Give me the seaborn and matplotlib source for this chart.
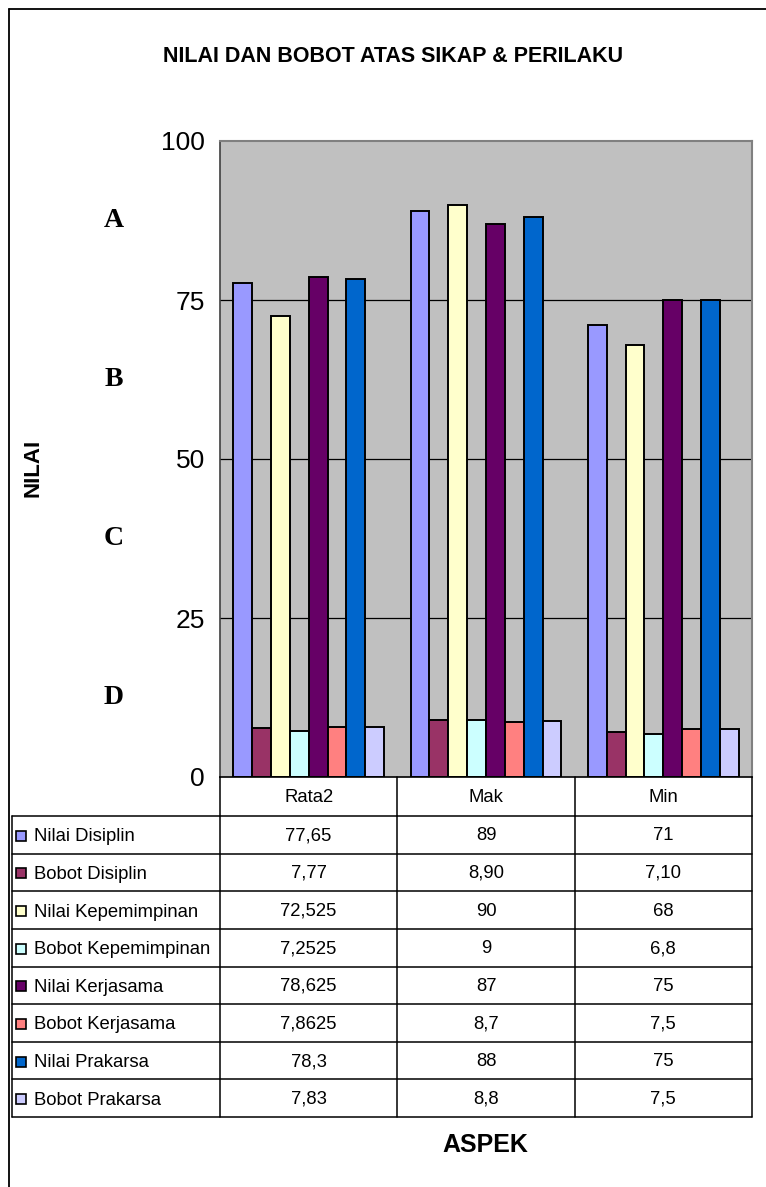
import pandas as pd
import numpy as np
import matplotlib
matplotlib.use('Agg')
import matplotlib.pyplot as plt
import matplotlib.transforms as mtransforms
from matplotlib.patches import Rectangle
import seaborn as sn

# data
aspek = ['Rata2', 'Mak', 'Min']
seri = ['Nilai Disiplin', 'Bobot Disiplin', 'Nilai Kepemimpinan', 'Bobot Kepemimpinan',
        'Nilai Kerjasama', 'Bobot Kerjasama', 'Nilai Prakarsa', 'Bobot Prakarsa']
nilaiDisiplin = [77.65, 89, 71]
bobotDisiplin = [7.77, 8.90, 7.10]
nilaiKepemimpinan = [72.525, 90, 68]
bobotKepemimpinan = [7.2525, 9, 6.8]
nilaiKerjasama = [78.625, 87, 75]
bobotKerjasama = [7.8625, 8.7, 7.5]
nilaiPrakarsa = [78.3, 88, 75]
bobotPrakarsa = [7.83, 8.8, 7.5]
formatAngka = ['g', '.2f', 'g', 'g', 'g', 'g', 'g', 'g']
warna = ['#9999FF', '#993366', '#FFFFCC', '#CCFFFF', '#660066', '#FF8080', '#0066CC', '#CCCCFF']
huruf = ['A', 'B', 'C', 'D']
posisiHuruf = [87.5, 62.5, 37.5, 12.5]
yticks = [0, 25, 50, 75, 100]

semuaNilai = [nilaiDisiplin, bobotDisiplin, nilaiKepemimpinan, bobotKepemimpinan,
              nilaiKerjasama, bobotKerjasama, nilaiPrakarsa, bobotPrakarsa]

rows = []
for s, vals in zip(seri, semuaNilai):
    for a, v in zip(aspek, vals):
        rows.append({'aspek': a, 'seri': s, 'nilai': v})
df = pd.DataFrame(rows)

sn.set_style('white')
plt.rcParams['font.family'] = ['Liberation Sans', 'DejaVu Sans']
plt.rcParams['text.color'] = 'black'
plt.rcParams['ytick.labelcolor'] = 'black'
plt.rcParams['axes.labelcolor'] = 'black'

W, H = 766, 1187
fig = plt.figure(figsize=(W / 100, H / 100), dpi=100)

# plot area in pixels
pl, pt, pr, pb = 220, 141, 752, 777
ax = fig.add_axes([pl / W, 1 - pb / H, (pr - pl) / W, (pb - pt) / H])
ax.set_facecolor('#C0C0C0')

sn.barplot(data=df, x='aspek', y='nilai', hue='seri', hue_order=seri, order=aspek,
           palette=warna, edgecolor='black', linewidth=1.4, width=0.85,
           saturation=1, legend=False, ax=ax)

ax.set_ylim(0, 100)
ax.set_xlim(-0.5, len(aspek) - 0.5)
ax.set_yticks(yticks)
ax.set_yticklabels([str(t) for t in yticks], fontsize=19, color='black')
ax.set_xticks([])
ax.set_xlabel('')
ax.set_ylabel('')
for t in [25, 50, 75]:
    ax.axhline(t, color='black', lw=0.9, zorder=0.5)
ax.tick_params(axis='y', direction='out', length=6, width=1, color='#404040', pad=5)
for k in ['top', 'right']:
    ax.spines[k].set_color('#808080')
    ax.spines[k].set_linewidth(1.5)
ax.spines['left'].set_color('#404040')
ax.spines['left'].set_linewidth(1.2)
ax.spines['bottom'].set_color('black')
ax.spines['bottom'].set_linewidth(1.2)

# grade letters
trans = mtransforms.blended_transform_factory(ax.transAxes, ax.transData)
for h, p in zip(huruf, posisiHuruf):
    ax.text(-0.2, p, h, transform=trans, ha='center', va='center', fontsize=20,
            fontweight='bold', color='black', family=['Liberation Serif', 'DejaVu Serif'])

# overlay in pixel coords for table and labels
ov = fig.add_axes([0, 0, 1, 1], facecolor='none')
ov.set_xlim(0, W)
ov.set_ylim(H, 0)
ov.axis('off')

# outer frame
ov.plot([9, 9], [H, 9], color='black', lw=1.3)
ov.plot([9, W], [9, 9], color='black', lw=1.3)

ov.text(393, 57, 'NILAI DAN BOBOT ATAS SIKAP & PERILAKU', ha='center', va='center',
        fontsize=15.5, fontweight='bold')
ov.text(33, 468, 'NILAI', ha='center', va='center', rotation=90, fontsize=16, fontweight='bold')
ov.text(485, 1145, 'ASPEK', ha='center', va='center', fontsize=18, fontweight='bold')

# data table
tl = 12
hdrTop, hdrBot = pb, 816
rowH = (1117 - hdrBot) / len(seri)
colW = (pr - pl) / len(aspek)
colX = [pl + i * colW for i in range(len(aspek) + 1)]
lc = 'black'
lw = 1.1
fs = 13.3
# header
for x in colX:
    ov.plot([x, x], [hdrTop, hdrBot], color=lc, lw=lw)
for i, a in enumerate(aspek):
    ov.text(colX[i] + colW / 2, (hdrTop + hdrBot) / 2 + 1, a, ha='center', va='center', fontsize=fs)
# body
bottom = hdrBot + rowH * len(seri)
for r in range(len(seri) + 1):
    y = hdrBot + r * rowH
    ov.plot([tl, pr], [y, y], color=lc, lw=lw)
for x in [tl] + colX:
    ov.plot([x, x], [hdrBot, bottom], color=lc, lw=lw)
for r, (s, vals, fm, c) in enumerate(zip(seri, semuaNilai, formatAngka, warna)):
    yc = hdrBot + (r + 0.5) * rowH
    ov.add_patch(Rectangle((16, yc - 4), 10, 10, facecolor=c, edgecolor='black', lw=1.2))
    ov.text(34, yc + 2, s, ha='left', va='center', fontsize=fs)
    for i, v in enumerate(vals):
        ov.text(colX[i] + colW / 2, yc + 1, format(v, fm).replace('.', ','),
                ha='center', va='center', fontsize=fs)

plt.savefig('out.png', dpi=100)
plt.close()
